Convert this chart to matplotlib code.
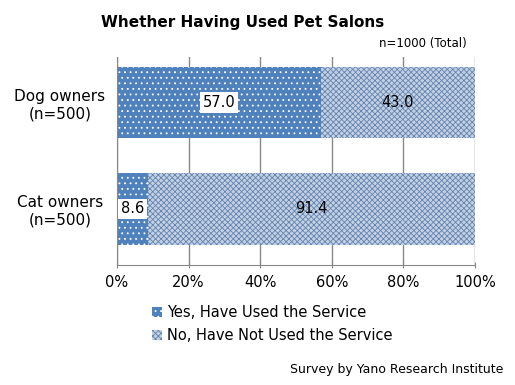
import numpy as np
import matplotlib.pyplot as plt
import matplotlib as mpl

mpl.rcParams['hatch.linewidth'] = 0.6

# data
groups = ["Dog owners\n(n=500)", "Cat owners\n(n=500)"]
used = [57.0, 8.6]
not_used = [43.0, 91.4]
series_names = ["Yes, Have Used the Service", "No, Have Not Used the Service"]

fig = plt.figure(figsize=(5.15, 3.85), dpi=100)
ax = fig.add_axes([117/515, 1-265/385, 358/515, 208/385])

y = np.arange(len(groups))
b1 = ax.barh(y, used, height=0.67, color='#4F81BD', edgecolor='white',
             hatch='...', linewidth=0, label=series_names[0])
b2 = ax.barh(y, not_used, left=used, height=0.67, color='#c3d1e2',
             edgecolor='#6384b0', hatch='xxxxxx', linewidth=0, label=series_names[1])

# value labels
for i in range(len(groups)):
    ax.text(used[i]/2, y[i], f"{used[i]:.1f}", ha='center', va='center', fontsize=10.5,
            bbox=dict(facecolor='white', edgecolor='none', pad=2))
    ax.text(used[i] + not_used[i]/2, y[i], f"{not_used[i]:.1f}", ha='center', va='center',
            fontsize=10.5)

ax.set_xlim(0, 100)
ax.set_ylim(1.526, -0.427)
ax.set_xticks(np.arange(0, 101, 20))
ax.set_xticklabels([f"{v}%" for v in range(0, 101, 20)], fontsize=10.5)
ax.set_yticks(y)
ax.set_yticklabels(groups, fontsize=11, ha='center')
ax.tick_params(axis='y', length=0, pad=41)
ax.tick_params(axis='x', length=5, color='#888888', direction='inout', pad=5)
ax.xaxis.grid(True, color='#888888', linewidth=1)
ax.set_axisbelow(True)
for s in ['top', 'right']:
    ax.spines[s].set_visible(False)
ax.spines['left'].set_color('#888888')
ax.spines['bottom'].set_color('#888888')

fig.text(243/515, 1-22/385, "Whether Having Used Pet Salons", ha='center', va='center',
         fontsize=11, fontweight='bold')
fig.text(467/515, 1-43/385, "n=1000 (Total)", ha='right', va='center', fontsize=8.5)

fig.legend(handles=[b1, b2], loc='upper left', bbox_to_anchor=(152/515, 1-305/385),
           frameon=False, fontsize=10.5, handlelength=0.7, handleheight=0.7,
           handletextpad=0.3, labelspacing=0.55, borderaxespad=0, borderpad=0)

fig.text(503/515, 1-370/385, "Survey by Yano Research Institute", ha='right', va='center',
         fontsize=9)

fig.savefig("out.png", dpi=100)
